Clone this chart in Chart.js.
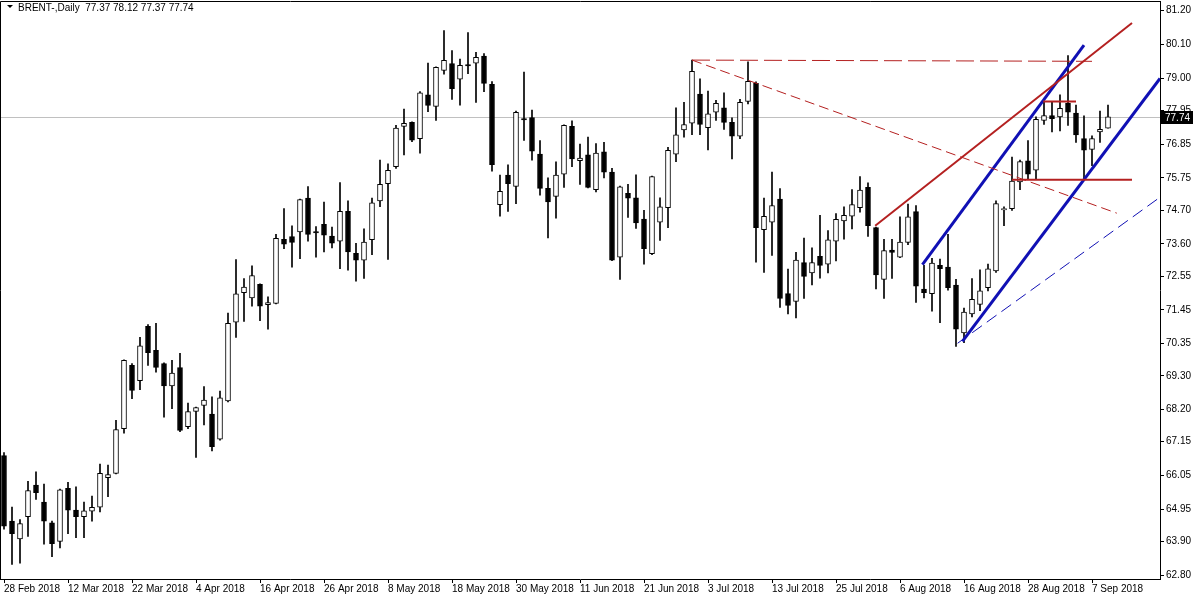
<!DOCTYPE html>
<html>
<head>
<meta charset="utf-8">
<title>BRENT Daily</title>
<script src="https://cdn.jsdelivr.net/npm/chart.js@4.4.1/dist/chart.umd.min.js"></script>
<style>
  html, body { margin: 0; padding: 0; background: #fff; }
  #chart { display: block; }
</style>
</head>
<body>
<canvas id="chart" width="1200" height="600"></canvas>
<script>
const symbolTitle = 'BRENT-,Daily';

// daily candles, one per trading day from 28 Feb 2018
const open = [
  66.70, 64.56, 63.98, 64.71, 65.74, 65.18, 64.51, 63.90, 65.63, 64.92,
  64.71, 64.89, 65.02, 65.98, 66.12, 67.58, 69.64, 69.14, 70.91, 70.13,
  69.70, 68.97, 69.57, 67.64, 68.14, 68.33, 68.05, 67.23, 68.48, 71.05,
  72.01, 71.84, 72.28, 71.62, 71.66, 73.75, 73.84, 73.99, 75.09, 74.00,
  74.24, 73.85, 73.69, 74.66, 73.29, 73.07, 73.74, 75.00, 75.56, 76.12,
  77.43, 77.56, 77.03, 78.46, 78.08, 79.25, 79.48, 78.97, 79.44, 79.49,
  79.72, 78.80, 74.88, 75.84, 75.47, 77.68, 77.72, 76.53, 75.41, 75.15,
  75.87, 77.43, 76.31, 76.50, 75.37, 76.60, 75.94, 73.17, 75.25, 75.10,
  74.41, 73.28, 74.31, 74.78, 76.52, 77.31, 77.53, 78.48, 77.39, 77.89,
  78.03, 77.56, 77.11, 78.24, 78.83, 74.06, 74.31, 75.06, 71.98, 71.72,
  72.99, 72.65, 73.19, 72.94, 73.69, 74.35, 74.50, 74.78, 75.44, 74.13,
  72.44, 73.40, 73.17, 73.65, 74.65, 72.13, 71.98, 72.90, 72.84, 72.26,
  70.70, 71.32, 71.63, 72.17, 72.72, 74.71, 74.75, 75.62, 76.31, 76.00,
  77.62, 77.78, 77.74, 78.18, 77.86, 77.03, 76.68, 77.25, 77.37
];
const high = [
  66.80, 65.02, 64.61, 65.86, 66.17, 65.77, 64.56, 65.61, 65.83, 65.68,
  65.18, 65.38, 66.42, 66.39, 67.85, 69.82, 69.70, 70.55, 70.97, 71.01,
  69.72, 69.80, 70.03, 68.41, 68.28, 68.95, 68.61, 68.80, 71.34, 73.09,
  72.47, 72.88, 72.30, 71.87, 73.91, 74.75, 74.19, 75.06, 75.47, 74.16,
  74.96, 74.15, 75.60, 75.00, 73.62, 74.09, 75.09, 76.33, 76.21, 77.46,
  77.99, 77.58, 78.56, 79.49, 79.37, 80.55, 79.90, 79.62, 80.49, 79.84,
  79.80, 78.89, 75.84, 76.18, 77.93, 79.20, 77.96, 76.97, 75.75, 76.27,
  77.48, 77.61, 76.85, 77.08, 76.87, 76.91, 76.06, 75.48, 75.54, 75.85,
  74.69, 75.81, 75.10, 76.75, 78.03, 78.21, 79.59, 78.98, 78.58, 78.28,
  78.52, 77.71, 78.31, 79.53, 78.88, 75.09, 75.94, 75.40, 72.78, 73.32,
  73.79, 73.47, 74.53, 74.03, 74.59, 74.81, 75.37, 75.79, 75.59, 74.15,
  73.75, 73.75, 74.48, 74.90, 74.85, 72.90, 73.13, 73.10, 73.91, 72.44,
  71.51, 72.47, 72.75, 72.94, 75.00, 74.81, 76.43, 76.33, 76.97, 77.74,
  78.21, 78.21, 78.46, 79.74, 78.12, 77.77, 77.12, 77.93, 78.12
];
const low = [
  64.30, 63.15, 63.19, 64.06, 65.27, 63.81, 63.40, 63.69, 64.15, 64.02,
  64.02, 64.56, 64.86, 65.36, 66.10, 67.43, 68.55, 68.85, 69.64, 69.42,
  67.95, 68.23, 67.48, 67.58, 66.64, 67.70, 66.85, 67.20, 68.45, 70.55,
  71.07, 71.57, 71.10, 70.82, 71.64, 73.44, 72.84, 73.12, 73.69, 73.17,
  73.34, 73.47, 72.79, 72.74, 72.38, 72.47, 73.25, 74.81, 73.09, 76.06,
  76.50, 76.93, 76.56, 77.91, 77.62, 79.13, 78.31, 78.12, 79.15, 78.21,
  78.56, 75.97, 74.50, 74.66, 74.91, 76.97, 76.33, 75.19, 73.79, 74.44,
  75.44, 76.12, 75.54, 75.42, 75.29, 75.75, 73.05, 72.44, 74.46, 74.10,
  72.94, 73.25, 73.71, 74.13, 76.28, 77.08, 77.16, 77.16, 76.66, 77.62,
  77.33, 76.37, 77.03, 78.16, 73.00, 72.67, 73.22, 71.53, 71.32, 71.19,
  71.82, 72.26, 72.48, 72.65, 73.04, 73.75, 74.09, 74.63, 73.84, 72.13,
  71.82, 72.47, 73.15, 73.57, 71.69, 71.84, 71.41, 71.03, 72.09, 70.26,
  70.38, 71.22, 71.42, 72.07, 72.67, 74.19, 74.69, 75.37, 75.69, 75.71,
  77.49, 77.25, 77.28, 77.46, 76.91, 75.71, 76.15, 76.91, 77.37
];
const close = [
  64.40, 64.15, 64.48, 65.56, 65.49, 64.56, 63.83, 65.58, 64.92, 64.71,
  64.90, 65.01, 66.12, 66.08, 67.55, 69.80, 68.82, 70.28, 70.05, 69.57,
  68.97, 69.39, 67.52, 68.13, 68.26, 68.51, 66.99, 68.58, 71.01, 71.97,
  72.19, 72.57, 71.57, 71.69, 73.78, 73.59, 73.65, 75.04, 73.91, 73.96,
  73.88, 73.62, 74.66, 73.34, 73.07, 73.66, 74.94, 75.54, 76.00, 77.37,
  77.53, 76.98, 78.52, 78.11, 79.35, 79.58, 78.66, 79.42, 79.40, 79.68,
  78.83, 76.18, 75.31, 75.56, 77.89, 77.64, 76.62, 75.41, 74.97, 75.84,
  77.46, 76.37, 76.40, 75.44, 76.56, 75.94, 73.07, 75.46, 75.09, 74.28,
  73.44, 75.79, 74.81, 76.65, 77.15, 77.49, 79.22, 77.49, 77.84, 78.18,
  77.56, 77.11, 78.21, 78.90, 74.13, 74.50, 74.85, 71.82, 71.59, 73.07,
  72.54, 72.99, 72.90, 73.73, 74.40, 74.53, 74.88, 75.35, 74.19, 72.59,
  73.38, 73.32, 73.66, 74.48, 72.22, 72.01, 72.97, 72.79, 72.17, 70.82,
  71.38, 71.79, 72.07, 72.79, 74.91, 74.75, 75.65, 76.28, 75.87, 77.66,
  77.78, 77.68, 78.02, 77.89, 77.15, 76.65, 77.03, 77.33, 77.74
];

// bottom axis: bar index of each date label
const dateTickBars = [0, 8, 16, 24, 32, 40, 48, 56, 64, 72, 80, 88, 96, 104, 112, 120, 128, 136];
const dateTickLabels = [
  '28 Feb 2018', '12 Mar 2018', '22 Mar 2018', '4 Apr 2018', '16 Apr 2018', '26 Apr 2018',
  '8 May 2018', '18 May 2018', '30 May 2018', '11 Jun 2018', '21 Jun 2018', '3 Jul 2018',
  '13 Jul 2018', '25 Jul 2018', '6 Aug 2018', '16 Aug 2018', '28 Aug 2018', '7 Sep 2018'
];

// right axis price labels
const priceTicks = [81.20, 80.10, 79.00, 77.95, 76.85, 75.75, 74.70, 73.60, 72.55,
  71.45, 70.35, 69.30, 68.20, 67.15, 66.05, 64.95, 63.90, 62.80];

// drawn objects: end points as [bar index, price]
const topLevelDashed = [[86, 79.59], [136, 79.55]];
const fallingDashed = [[86, 79.59], [139.1, 74.60]];
const redRising = [[108.9, 74.19], [141, 80.80]];
const redTopShelf = [[129.9, 78.24], [134, 78.24]];
const redSupport = [[126, 75.69], [141, 75.69]];
const blueUpper = [[114.8, 72.92], [135, 80.08]];
const blueLower = [[119.8, 70.42], [144.5, 78.99]];
const blueDashed = [[119.2, 70.36], [144.5, 75.12]];

const RED = '#b42020';
const BLUE = '#1010b4';
const FONT = "'Liberation Sans', Arial, sans-serif";

function toPoints(line) {
  return line.map(p => ({ x: p[0], y: p[1] }));
}

function lineSet(line, color, width, dash) {
  return {
    type: 'line',
    data: toPoints(line),
    borderColor: color,
    borderWidth: width,
    borderDash: dash || [],
    pointRadius: 0,
    fill: false,
    tension: 0,
    order: 0
  };
}

// chart.js reserves room for the end tick labels; the frame here goes right to the edge
function noLabelPadding(scale) {
  scale.paddingTop = 0;
  scale.paddingBottom = 0;
  scale.paddingLeft = 0;
  scale.paddingRight = 0;
}

const bodies = open.map((o, i) => ({ x: i, y: [o, close[i]] }));
const wicks = low.map((l, i) => ({ x: i, y: [l, high[i]] }));
const bodyColors = open.map((o, i) => close[i] >= o ? '#ffffff' : '#000000');

const chartExtras = {
  id: 'chartExtras',
  beforeDatasetsDraw(chart) {
    const { ctx, chartArea, scales } = chart;
    const y = Math.round(scales.y.getPixelForValue(close[close.length - 1])) + 0.5;
    ctx.save();
    ctx.strokeStyle = '#c0c0c0';
    ctx.lineWidth = 1;
    ctx.beginPath();
    ctx.moveTo(chartArea.left, y);
    ctx.lineTo(chartArea.right, y);
    ctx.stroke();
    ctx.restore();
  },
  afterDraw(chart) {
    const { ctx, chartArea, scales } = chart;
    ctx.save();
    // frame top and left
    ctx.strokeStyle = '#000';
    ctx.lineWidth = 1;
    ctx.beginPath();
    ctx.moveTo(chartArea.left + 0.5, chartArea.bottom);
    ctx.lineTo(chartArea.left + 0.5, chartArea.top + 0.5);
    ctx.lineTo(chartArea.right, chartArea.top + 0.5);
    ctx.stroke();

    // title
    ctx.fillStyle = '#000';
    ctx.beginPath();
    ctx.moveTo(7, 5);
    ctx.lineTo(13, 5);
    ctx.lineTo(10, 8);
    ctx.closePath();
    ctx.fill();
    const last = close.length - 1;
    ctx.font = '10px ' + FONT;
    ctx.textBaseline = 'middle';
    ctx.textAlign = 'left';
    const vals = [open[last], high[last], low[last], close[last]].map(v => v.toFixed(2)).join(' ');
    ctx.fillText(symbolTitle + '  ' + vals, 18, 8);

    // last price box
    const py = Math.round(scales.y.getPixelForValue(close[last]));
    ctx.fillStyle = '#000';
    ctx.fillRect(chartArea.right + 1, py - 6, 32, 13);
    ctx.fillStyle = '#fff';
    ctx.fillText(close[last].toFixed(2), chartArea.right + 5, py + 1);
    ctx.restore();
  }
};

const ctx = document.getElementById('chart');
new Chart(ctx, {
  type: 'bar',
  data: {
    datasets: [
      lineSet(topLevelDashed, RED, 1, [18, 6]),
      lineSet(fallingDashed, RED, 1, [10, 5]),
      lineSet(redRising, RED, 2),
      lineSet(redTopShelf, RED, 2),
      lineSet(redSupport, RED, 2),
      lineSet(blueUpper, BLUE, 3),
      lineSet(blueLower, BLUE, 3),
      lineSet(blueDashed, BLUE, 1, [12, 6]),
      {
        type: 'bar',
        data: bodies,
        backgroundColor: bodyColors,
        borderColor: '#000',
        borderWidth: 1,
        borderSkipped: false,
        barThickness: 5,
        minBarLength: 1,
        grouped: false,
        order: 1
      },
      {
        type: 'bar',
        data: wicks,
        backgroundColor: '#000',
        borderWidth: 0,
        barThickness: 1,
        grouped: false,
        order: 2
      }
    ]
  },
  options: {
    responsive: false,
    animation: false,
    devicePixelRatio: 1,
    layout: { padding: { left: 0, top: 1, right: 0, bottom: 0 } },
    plugins: {
      legend: { display: false },
      tooltip: { enabled: false },
      title: { display: false }
    },
    scales: {
      x: {
        type: 'linear',
        min: -0.5,
        max: 144.5,
        offset: false,
        grid: { offset: false, drawOnChartArea: false, drawTicks: true, tickLength: 4, color: '#000' },
        border: { color: '#000' },
        afterBuildTicks: scale => { scale.ticks = dateTickBars.map(v => ({ value: v })); },
        afterFit: scale => { scale.height = 21; noLabelPadding(scale); },
        ticks: {
          align: 'start',
          autoSkip: false,
          maxRotation: 0,
          padding: 0,
          color: '#000',
          font: { family: FONT, size: 10 },
          callback: (value) => {
            const k = dateTickBars.indexOf(value);
            return k >= 0 ? dateTickLabels[k] : '';
          }
        }
      },
      y: {
        type: 'linear',
        position: 'right',
        min: 62.676,
        max: 81.516,
        grid: { drawOnChartArea: false, drawTicks: true, tickLength: 4, color: '#000' },
        border: { color: '#000' },
        afterBuildTicks: scale => { scale.ticks = priceTicks.map(v => ({ value: v })); },
        afterFit: scale => { scale.width = 40; noLabelPadding(scale); },
        ticks: {
          padding: 2,
          color: '#000',
          font: { family: FONT, size: 10 },
          callback: (value) => value.toFixed(2)
        }
      }
    }
  },
  plugins: [chartExtras]
});
</script>
</body>
</html>
